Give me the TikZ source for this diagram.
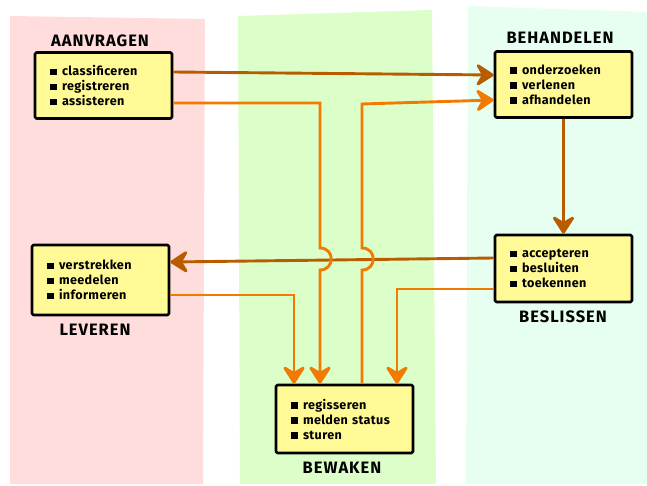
\documentclass[tikz,border=0pt]{standalone}
\usepackage{fontspec}
\setmainfont{Fira Sans}
\usetikzlibrary{arrows.meta}

\definecolor{bandpink}{RGB}{255,221,221}
\definecolor{bandgreen}{RGB}{220,255,202}
\definecolor{bandcyan}{RGB}{230,255,241}
\definecolor{notefill}{RGB}{255,249,150}
\definecolor{flowbrown}{RGB}{184,92,0}
\definecolor{floworange}{RGB}{242,122,0}

\newcommand\blt{\rule[0.3pt]{6.5pt}{6.5pt}\hspace{5.5pt}}

\tikzset{
  note/.style={draw=black, line width=2.7pt, fill=notefill, rounded corners=1.5pt,
    line join=round, minimum width=137pt, minimum height=66pt, text width=107pt,
    inner xsep=15pt, align=left,
    font=\fontsize{12.6}{15}\selectfont\bfseries\addfontfeature{LetterSpace=3}},
  phase/.style={font=\fontsize{16.5}{18}\selectfont\bfseries\addfontfeature{LetterSpace=6}},
  bigtip/.tip={Stealth[length=21pt,width=27pt,inset=8pt,round]},
  brownflow/.style={draw=flowbrown, line width=2.9pt, -bigtip},
  orangeflow/.style={draw=floworange, line width=2.9pt, -bigtip},
}

\begin{document}
\begin{tikzpicture}[x=1pt,y=-1pt]
\useasboundingbox (0,0) rectangle (647,486);

% coloured lanes
\fill[bandpink]  (10,16) -- (205,19) -- (203,484) -- (10,484) -- cycle;
\fill[bandgreen] (238,16) -- (432,10) -- (436,484) -- (240,484) -- cycle;
\fill[bandcyan]  (468,6) -- (647,12) -- (647,484) -- (466,484) -- cycle;

% task notes
\node[note] (aan) at (103.5,85.5) {\blt classificeren\\ \blt registreren\\ \blt assisteren};
\node[note] (beh) at (563.5,84.5) {\blt onderzoeken\\ \blt verlenen\\ \blt afhandelen};
\node[note, minimum height=70pt] (lev) at (100.5,280) {\blt verstrekken\\ \blt meedelen\\ \blt informeren};
\node[note, minimum height=67pt] (bes) at (563.5,268.5) {\blt accepteren\\ \blt besluiten\\ \blt toekennen};
\node[note, minimum height=68pt] (bew) at (344.5,419) {\blt regisseren\\ \blt melden status\\ \blt sturen};

% phase titles
\node[phase] (taan) at (100,41) {AANVRAGEN};
\node[phase] (tbeh) at (560,38) {BEHANDELEN};
\node[phase] (tlev) at (95,330) {LEVEREN};
\node[phase] (tbes) at (563,317) {BESLISSEN};
\node[phase] (tbew) at (342,468) {BEWAKEN};

% bend points
\coordinate (j2) at (320,103);
\coordinate (j3) at (362,104);
\coordinate (j6) at (294,295);
\coordinate (j7) at (397,289);

% main flow
\draw[brownflow] ([yshift=13.5pt]aan.east) -- ([yshift=9.5pt]beh.west);
\draw[brownflow] (beh.south) -- (bes.north);
\draw[brownflow] ([yshift=10.5pt]bes.west) -- ([yshift=18pt]lev.east);

% monitoring flow
\draw[orangeflow] ([yshift=-17.5pt]aan.east) -- (j2) -- (320,248)
  .. controls (335,248) and (335,270) .. (320,270) -- (bew.north -| j2);
\draw[orangeflow] (bew.north -| j3) -- (362,270)
  .. controls (377,270) and (377,248) .. (362,248) -- (j3) -- ([yshift=-15.5pt]beh.west);
\draw[orangeflow] ([yshift=-15pt]lev.east) -- (j6) -- (bew.north -| j6);
\draw[orangeflow] ([yshift=-20.5pt]bes.west) -- (j7) -- (bew.north -| j7);
\end{tikzpicture}
\end{document}
